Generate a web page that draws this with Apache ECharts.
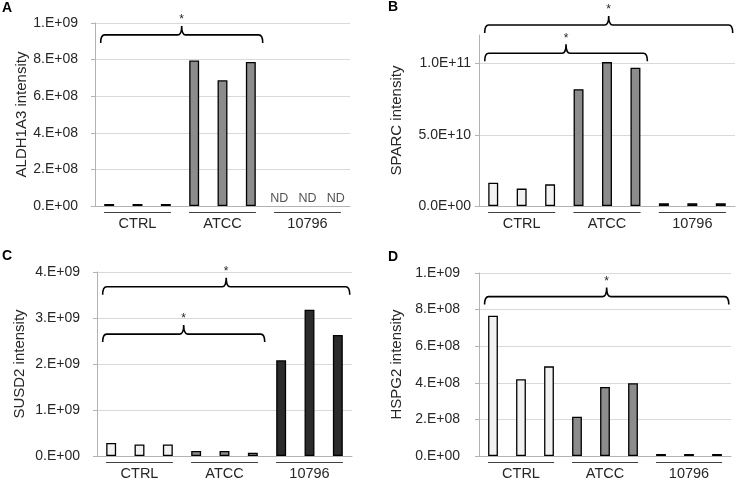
<!DOCTYPE html>
<html><head><meta charset="utf-8">
<script src="https://cdn.jsdelivr.net/npm/echarts@6/dist/echarts.min.js"></script>
<style>html,body{margin:0;padding:0;background:#fff}#c{width:736px;height:481px}</style>
</head><body><div id="c"></div>
<script>
// ---------- data ----------
const groups = ['CTRL', 'ATCC', '10796'];
const replicates = ['CTRL 1','CTRL 2','CTRL 3','ATCC 1','ATCC 2','ATCC 3','10796 1','10796 2','10796 3'];

// A: ALDH1A3
const aldhCtrl = [1.1e7, 1.1e7, 1.1e7];
const aldhAtcc = [7.95e8, 6.87e8, 7.87e8];
const aldh10796 = [null, null, null];
const aldhNd = ['ND', 'ND', 'ND'];
const aldhTicks = [0, 2e8, 4e8, 6e8, 8e8, 1e9];

// B: SPARC
const sparcCtrl = [1.64e10, 1.22e10, 1.52e10];
const sparcAtcc = [8.2e10, 1.01e11, 9.7e10];
const sparc10796 = [1.9e9, 1.9e9, 1.9e9];
const sparcTicks = [0, 5e10, 1e11];

// C: SUSD2
const susdCtrl = [2.85e8, 2.5e8, 2.5e8];
const susdAtcc = [1.1e8, 1.1e8, 7e7];
const susd10796 = [2.08e9, 3.18e9, 2.63e9];
const susdTicks = [0, 1e9, 2e9, 3e9, 4e9];

// D: HSPG2
const hspgCtrl = [7.66e8, 4.2e8, 4.9e8];
const hspgAtcc = [2.15e8, 3.77e8, 3.98e8];
const hspg10796 = [1.1e7, 1.1e7, 1.1e7];
const hspgTicks = [0, 2e8, 4e8, 6e8, 8e8, 1e9];

// significance brackets: [fromGroup, toGroup, level]
const aldhBrackets = [[0, 1, 9.35e8]];
const sparcBrackets = [[0, 2, 1.27e11], [0, 1, 1.072e11]];
const susdBrackets = [[0, 2, 3.68e9], [0, 1, 2.65e9]];
const hspgBrackets = [[0, 2, 8.71e8]];

// ---------- layout / style ----------
const FONT = 'Liberation Sans';
const TXT = '#262626';
const colors = ['#f2f2f2', '#8c8c8c', '#2b2b2b'];

const panels = [
  {letter:'A', lx:2, ly:1, grid:{left:95, top:23, width:255, height:183}, max:1e9, interval:2e8, dec:0, ticks:aldhTicks,
   name:'ALDH1A3 intensity', nameGap:66, margin:17, series:[aldhCtrl, aldhAtcc, aldh10796], brackets:aldhBrackets, nd:aldhNd},
  {letter:'B', lx:388, ly:0, grid:{left:479, top:35, width:256, height:171}, max:1.2e11, interval:5e10, dec:1, ticks:sparcTicks,
   name:'SPARC intensity', nameGap:75, margin:8, series:[sparcCtrl, sparcAtcc, sparc10796], brackets:sparcBrackets},
  {letter:'C', lx:2, ly:249, grid:{left:97, top:272, width:255, height:185}, max:4e9, interval:1e9, dec:0, ticks:susdTicks,
   name:'SUSD2 intensity', nameGap:70, margin:17, series:[susdCtrl, susdAtcc, susd10796], brackets:susdBrackets},
  {letter:'D', lx:388, ly:250, grid:{left:479, top:273, width:252, height:184}, max:1e9, interval:2e8, dec:0, ticks:hspgTicks,
   name:'HSPG2 intensity', nameGap:75, margin:19, series:[hspgCtrl, hspgAtcc, hspg10796], brackets:hspgBrackets}
];

function fmt(v, d) {
  if (v === 0) return d ? '0.' + '0'.repeat(d) + 'E+00' : '0.E+00';
  let e = Math.floor(Math.log10(v) + 1e-9);
  let m = v / Math.pow(10, e);
  let s = d ? m.toFixed(d) : Math.round(m) + '.';
  return s + 'E+' + (e < 10 ? '0' : '') + e;
}

function pad(arr, g) {
  const out = new Array(9).fill(null);
  arr.forEach((v, i) => { out[g * 3 + i] = v; });
  return out;
}

function bracketRender(params, api) {
  const g0 = api.value(0), g1 = api.value(1), lvl = api.value(2);
  const band = api.size([1, 0])[0];
  const x1 = api.coord([g0 * 3, lvl])[0] - band * 0.3;
  const x2 = api.coord([g1 * 3 + 2, lvl])[0] + band * 0.42;
  const y = api.coord([g0 * 3, lvl])[1];
  const xm = (x1 + x2) / 2;
  const d = 8, p = 9, r = 4;
  const path = `M${x1},${y + d} Q${x1},${y} ${x1 + r},${y} L${xm - r},${y} Q${xm},${y} ${xm},${y - p} Q${xm},${y} ${xm + r},${y} L${x2 - r},${y} Q${x2},${y} ${x2},${y + d}`;
  return {
    type: 'group',
    children: [
      {type: 'path', shape: {pathData: path}, style: {stroke: '#000', lineWidth: 1.6, fill: null}},
      {type: 'text', style: {text: '*', x: xm, y: y - p - 6, align: 'center', verticalAlign: 'middle', fontSize: 12, fontFamily: FONT, fill: TXT}}
    ]
  };
}

function underlineRender(params, api) {
  const g = api.value(0);
  const band = api.size([1, 0])[0];
  const xa = api.coord([g * 3, 0])[0] - band * 0.18;
  const xb = api.coord([g * 3 + 2, 0])[0] + band * 0.18;
  const y = Math.round(api.coord([g * 3, 0])[1] + 6) + 0.5;
  return {type: 'line', shape: {x1: xa, y1: y, x2: xb, y2: y}, style: {stroke: '#404040', lineWidth: 1}};
}

const option = {
  animation: false,
  backgroundColor: '#fff',
  title: panels.map(P => ({text: P.letter, left: P.lx, top: P.ly, padding: 0,
    textStyle: {fontSize: 14, fontWeight: 'bold', fontFamily: FONT, color: '#000'}})),
  grid: panels.map(P => Object.assign({containLabel: false}, P.grid)),
  xAxis: [],
  yAxis: [],
  series: []
};

panels.forEach((P, i) => {
  const xi = option.xAxis.length;
  option.xAxis.push({
    type: 'category', gridIndex: i, data: replicates, position: 'bottom',
    axisLine: {show: true, lineStyle: {color: '#b3b3b3', width: 1}},
    axisTick: {show: false}, axisLabel: {show: false}, splitLine: {show: false}
  });
  option.xAxis.push({
    type: 'category', gridIndex: i, data: groups, position: 'bottom',
    axisLine: {show: false}, axisTick: {show: false}, splitLine: {show: false},
    axisLabel: {show: true, margin: 10, fontSize: 14.5, fontFamily: FONT, color: TXT}
  });
  option.yAxis.push({
    type: 'value', gridIndex: i, min: 0, max: P.max, interval: P.interval,
    axisLine: {show: true, lineStyle: {color: '#b3b3b3', width: 1}},
    axisTick: {show: true, length: 4, lineStyle: {color: '#b3b3b3'}, customValues: P.ticks},
    axisLabel: {customValues: P.ticks, margin: P.margin, fontSize: 14, fontFamily: FONT, color: TXT,
      formatter: v => fmt(v, P.dec)},
    splitLine: {show: true, lineStyle: {color: '#d9d9d9', width: 1}},
    name: P.name, nameLocation: 'middle', nameGap: P.nameGap,
    nameTextStyle: {fontSize: 15, fontFamily: FONT, color: TXT}
  });
  P.series.forEach((arr, g) => {
    option.series.push({
      type: 'bar', name: groups[g], xAxisIndex: xi, yAxisIndex: i,
      data: pad(arr, g), barWidth: '35%', barGap: '-100%',
      itemStyle: {color: colors[g], borderColor: '#000', borderWidth: 1.3}
    });
  });
  if (P.nd) {
    option.series.push({
      type: 'scatter', xAxisIndex: xi, yAxisIndex: i, symbolSize: 0,
      data: P.nd.map((t, k) => ({value: [6 + k, 0], name: t})),
      label: {show: true, position: 'top', distance: 1, formatter: '{b}', fontSize: 12.5, fontFamily: FONT, color: TXT}
    });
  }
  option.series.push({
    type: 'custom', xAxisIndex: xi, yAxisIndex: i, renderItem: bracketRender, clip: false,
    dimensions: ['from', 'to', 'level'], encode: {x: 'from', y: 'level'},
    data: P.brackets, silent: true, z: 10
  });
  option.series.push({
    type: 'custom', xAxisIndex: xi, yAxisIndex: i, renderItem: underlineRender, clip: false,
    data: groups.map((gname, g) => [g, 0]), silent: true, z: 10
  });
});

const chart = echarts.init(document.getElementById('c'), null, {renderer: 'canvas'});
chart.setOption(option);
</script>
</body></html>
